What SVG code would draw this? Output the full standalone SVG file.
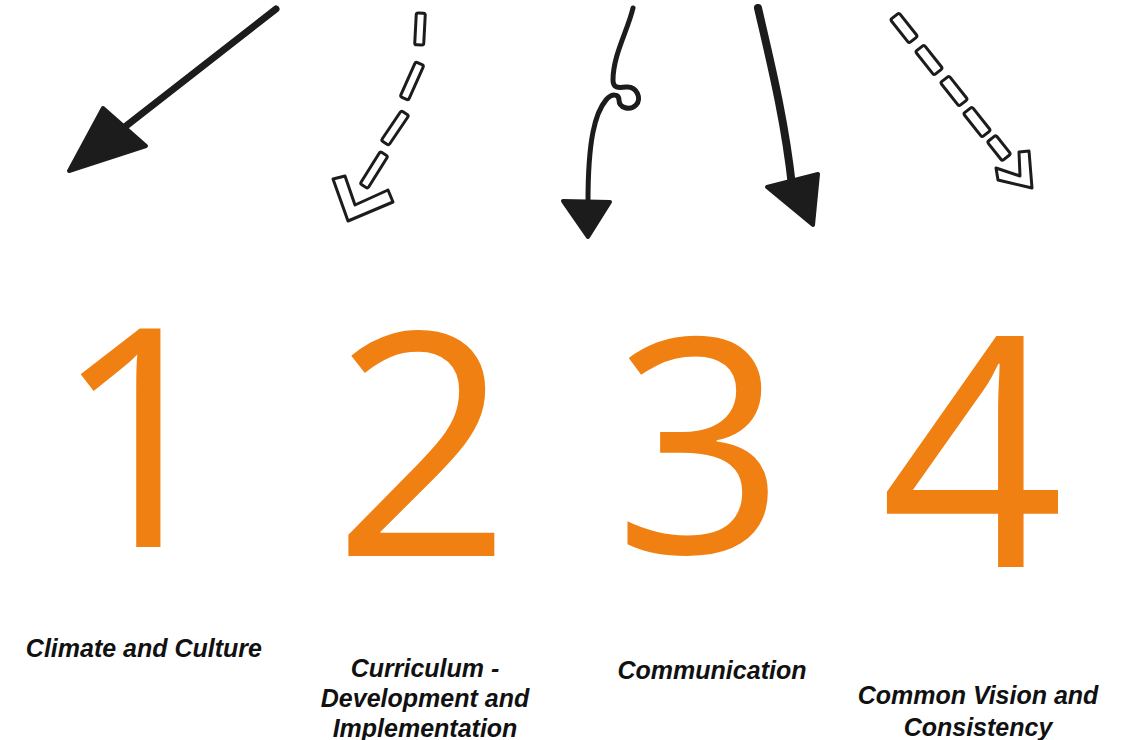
<svg xmlns="http://www.w3.org/2000/svg" width="1130" height="740" viewBox="0 0 1130 740">
<style>
.num{font-family:"Open Sans","DejaVu Sans",sans-serif;font-weight:500;fill:#F08012}
.lbl{font-family:"Liberation Sans",Arial,sans-serif;font-weight:bold;font-style:italic;font-size:25px;fill:#111;text-anchor:middle}
.solid{fill:none;stroke:#1c1c1c;stroke-linecap:round;stroke-linejoin:round}
.head{fill:#1c1c1c;stroke:#1c1c1c;stroke-width:4;stroke-linejoin:round}
.hollow{fill:#fff;stroke:#1c1c1c;stroke-width:3;stroke-linejoin:round}
</style>
<rect width="1130" height="740" fill="#fff"/>
<g id="arrows">
  <g id="arrow1">
    <path class="solid" d="M276,9 L126,126" stroke-width="7"/>
    <polygon class="head" points="103,108 146,146 69,171"/>
  </g>
  <g id="arrow2">
    <rect class="hollow" x="-4.5" y="-16" width="9" height="32" rx="2" transform="translate(420,29) rotate(3)"/>
    <rect class="hollow" x="-4.5" y="-19" width="9" height="38" rx="2" transform="translate(412,81) rotate(24)"/>
    <rect class="hollow" x="-4.5" y="-18" width="9" height="36" rx="2" transform="translate(395,128) rotate(34)"/>
    <rect class="hollow" x="-4.5" y="-19" width="9" height="38" rx="2" transform="translate(374,170) rotate(32)"/>
    <polygon class="hollow" points="333,179 348,221 393,202 388,190 355,205 345,176"/>
  </g>
  <g id="arrow3">
    <path class="solid" stroke-width="5" d="M633,8 C628,30 613,55 613,80 C613,88 618,88 626,87 C637,86 642,99 636,105 C630,111 619,108 619,100 C619,94 612,93 606,100 C595,113 588,140 588,202"/>
    <polygon class="head" points="563,201 610,202 588,237"/>
  </g>
  <g id="arrow4">
    <path class="solid" stroke-width="8" d="M758,8 C770,60 785,120 792,186"/>
    <polygon class="head" points="767,187 818,174 813,225"/>
  </g>
  <g id="arrow5">
    <rect class="hollow" x="-15" y="-5.5" width="30" height="11" rx="2" transform="translate(904,28) rotate(51.6)"/>
    <rect class="hollow" x="-15" y="-5.5" width="30" height="11" rx="2" transform="translate(929,60) rotate(51.6)"/>
    <rect class="hollow" x="-15" y="-5.5" width="30" height="11" rx="2" transform="translate(954,91) rotate(51.6)"/>
    <rect class="hollow" x="-15" y="-5.5" width="30" height="11" rx="2" transform="translate(977,122) rotate(51.6)"/>
    <rect class="hollow" x="-12" y="-5.5" width="24" height="11" rx="2" transform="translate(999,148) rotate(51.6)"/>
    <polygon class="hollow" points="996,168 998,180 1032,188 1029,151 1019,152 1020,176"/>
  </g>
</g>
<g id="node1">
  <text class="num" x="53" y="547" font-size="306">1</text>
  <text class="lbl" x="262" y="657" style="text-anchor:end">Climate and Culture</text>
</g>
<g id="node2">
  <text class="num" x="333" y="556" font-size="312">2</text>
  <text class="lbl" x="425" y="677">Curriculum -</text>
  <text class="lbl" x="425" y="707">Development and</text>
  <text class="lbl" x="425" y="737">Implementation</text>
</g>
<g id="node3">
  <text class="num" x="614" y="553" font-size="300">3</text>
  <text class="lbl" x="712" y="679">Communication</text>
</g>
<g id="node4">
  <text class="num" x="880" y="567" font-size="322">4</text>
  <text class="lbl" x="978" y="704">Common Vision and</text>
  <text class="lbl" x="978" y="736">Consistency</text>
</g>
</svg>
